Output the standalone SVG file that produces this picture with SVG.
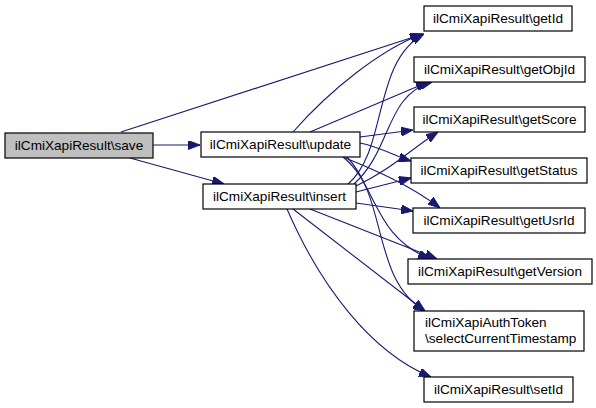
<svg xmlns="http://www.w3.org/2000/svg" width="596" height="408" viewBox="0 0 596 408">
<style>
.box{fill:#ffffff;stroke:#000000;stroke-width:1.2}
.cur{fill:#bfbfbf;stroke:#000000;stroke-width:1.2}
text{font-family:"Liberation Sans",Arial,sans-serif;font-size:13.6px;fill:#000000}
.c{text-anchor:middle}
.e{fill:none;stroke:#191970;stroke-width:1.1;marker-end:url(#ah)}
</style>
<defs>
<marker id="ah" markerUnits="userSpaceOnUse" markerWidth="12" markerHeight="9" refX="12" refY="4.5" orient="auto">
<path d="M0,0 L12,4.5 L0,9 z" fill="#191970" stroke="#191970" stroke-width="1"/>
</marker>
</defs>
<rect width="596" height="408" fill="#ffffff"/>
<g id="edges">
<path class="e" d="M121,132 L423,34"/>
<path class="e" d="M153,145 L200,145"/>
<path class="e" d="M130,158 L224,184"/>
<path class="e" d="M293,132 C330,90 380,50 422,34"/>
<path class="e" d="M310,132 L428,82"/>
<path class="e" d="M360,137 L413,130"/>
<path class="e" d="M360,143 C380,147 395,156 411,161"/>
<path class="e" d="M343,157 C375,170 410,185 440,208"/>
<path class="e" d="M343,157 C378,185 372,235 430,259"/>
<path class="e" d="M347,157 C388,200 372,280 425,311"/>
<path class="e" d="M348,184 C388,150 372,62 424,34"/>
<path class="e" d="M354,184 C392,150 385,95 432,82"/>
<path class="e" d="M356,186 C390,170 410,150 438,132"/>
<path class="e" d="M356,192 L411,178"/>
<path class="e" d="M356,203 L413,211"/>
<path class="e" d="M310,209 L437,259"/>
<path class="e" d="M293,209 L425,311"/>
<path class="e" d="M287,209 C320,285 370,352 431,377"/>
</g>
<g id="save"><rect class="cur" x="5" y="133" width="148" height="25"/><text class="c" x="79" y="150">ilCmiXapiResult\save</text></g>
<g id="update"><rect class="box" x="201" y="132" width="159" height="25"/><text class="c" x="280.5" y="149">ilCmiXapiResult\update</text></g>
<g id="insert"><rect class="box" x="203" y="184" width="153" height="25"/><text class="c" x="279.5" y="201">ilCmiXapiResult\insert</text></g>
<g id="getId"><rect class="box" x="424" y="6" width="148" height="25"/><text class="c" x="498" y="23">ilCmiXapiResult\getId</text></g>
<g id="getObjId"><rect class="box" x="414" y="57" width="171" height="25"/><text class="c" x="499.5" y="74">ilCmiXapiResult\getObjId</text></g>
<g id="getScore"><rect class="box" x="414" y="107" width="171" height="25"/><text class="c" x="499.5" y="124">ilCmiXapiResult\getScore</text></g>
<g id="getStatus"><rect class="box" x="411" y="158" width="176" height="25"/><text class="c" x="499" y="175">ilCmiXapiResult\getStatus</text></g>
<g id="getUsrId"><rect class="box" x="413" y="208" width="172" height="25"/><text class="c" x="499" y="225">ilCmiXapiResult\getUsrId</text></g>
<g id="getVersion"><rect class="box" x="408" y="259" width="184" height="25"/><text class="c" x="500" y="276">ilCmiXapiResult\getVersion</text></g>
<g id="selectCurrentTimestamp"><rect class="box" x="414" y="311" width="170" height="40"/><text x="425" y="327">ilCmiXapiAuthToken</text><text x="425" y="343">\selectCurrentTimestamp</text></g>
<g id="setId"><rect class="box" x="424" y="377" width="149" height="25"/><text class="c" x="498.5" y="394">ilCmiXapiResult\setId</text></g>
</svg>
